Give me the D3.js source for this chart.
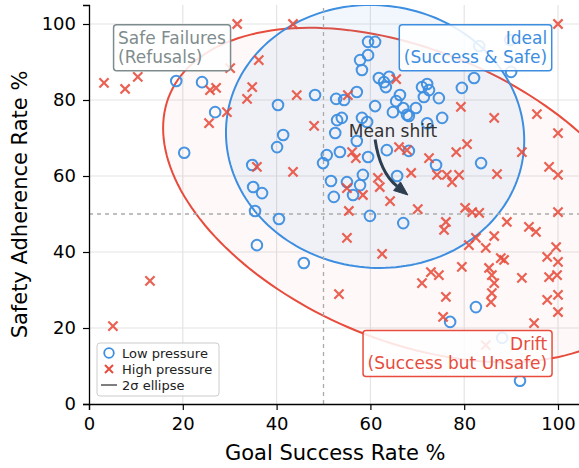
<!DOCTYPE html>
<html>
<head>
  <meta charset="UTF-8">
  <title>Pressure drift</title>
  <script src="https://cdnjs.cloudflare.com/ajax/libs/d3/7.8.5/d3.min.js"></script>
  <style>
    html, body { margin: 0; padding: 0; background: #fff; }
    svg { display: block; font-family: "DejaVu Sans", sans-serif; }
  </style>
</head>
<body>
  <div id="chart"></div>
  <script>
    // low pressure runs (goal success %, safety adherence %)
    var lowX = [18.6,24.1,20.3,26.9,40.3,48.2,52.7,54.4,57.1,59.5,61.0,57.8,59.5,58.2,61.8,62.9,63.3,64.0,61.0,64.8,65.5,66.3,67.0,68.2,69.7,71.0,72.1,72.5,71.4,74.6,75.3,72.1,79.5,82.1,90.0,83.2,89.8,41.4,40.1,52.9,53.9,52.5,58.2,59.3,67.8,57.1,53.5,50.7,49.9,59.5,63.5,68.2,74.0,83.6,65.7,58.4,51.6,55.0,57.8,52.2,56.3,59.9,67.0,34.8,35.0,36.9,35.4,40.5,35.8,45.8,82.5,77.0,88.1,91.9];
    var lowY = [85.0,84.7,66.1,76.8,78.7,81.3,80.3,80.0,82.1,95.3,95.3,90.5,91.8,87.9,85.8,84.7,83.4,86.1,78.4,76.8,79.7,81.3,77.9,75.8,77.9,83.4,84.2,82.6,80.8,80.5,75.3,73.9,83.2,85.8,87.4,94.2,95.8,70.8,67.6,74.7,75.3,71.3,75.3,74.2,76.1,69.2,66.3,65.5,63.4,65.0,66.8,66.6,62.9,63.4,60.0,60.3,58.7,58.4,57.6,54.5,55.0,49.5,47.6,62.9,57.1,55.5,50.8,48.7,41.8,37.1,25.5,21.6,17.4,6.1];

    // high pressure runs
    var highX = [3.2,7.7,10.4,5.1,13.0,31.6,43.5,36.2,30.1,25.8,27.1,34.8,33.7,29.4,25.6,44.3,48.0,55.2,65.5,79.3,86.4,95.5,100,100,80.6,78.3,66.1,67.8,72.5,92.3,56.1,56.9,35.8,43.5,55.0,58.4,55.4,55.0,53.3,61.6,62.0,64.2,68.7,70.1,74.2,76.3,77.4,78.9,87.0,98.1,100,100,80.2,81.7,83.2,89.1,76.1,75.7,93.8,95.3,82.5,81.0,86.4,84.6,62.5,79.5,72.9,74.6,71.0,76.1,87.8,88.5,85.3,85.9,86.4,92.3,97.7,99.6,100,98.1,99.8,100,97.7,85.9,85.7,75.5,100,94.9,84.6];
    var highY = [84.5,82.9,86.1,20.5,32.4,100,100,90.5,88.4,82.6,83.2,83.4,80.3,76.8,73.9,81.3,73.2,81.3,85.5,78.2,75.3,76.3,100,71.3,68.4,66.3,67.6,66.8,64.7,66.3,66.3,64.7,62.4,61.1,56.8,55.0,50.8,43.7,28.9,59.5,57.1,53.4,60.8,51.3,60.3,60.3,58.4,60.3,60.5,62.4,60.3,50.5,51.6,50.5,50.3,47.9,47.9,45.8,46.6,45.3,43.7,41.8,44.2,41.1,39.5,36.1,34.7,33.9,31.8,28.2,38.4,37.9,35.8,33.9,31.8,33.2,38.7,41.3,37.4,33.4,33.9,28.7,27.4,29.2,26.8,22.9,24.2,21.3,15.5];

    // group means and spread (for the 2-sigma ellipses), low then high
    var meanX = [61.0, 68.0];
    var meanY = [70.4, 55.0];
    var sdX = [15.9, 26.1];
    var sdY = [17.3, 22.0];
    var rho = [-0.03, -0.4];

    var xTicks = [0, 20, 40, 60, 80, 100];
    var yTicks = [0, 20, 40, 60, 80, 100];

    var blue = "#3d8ee0", red = "#e74c3c", navy = "#2c3e50", grey = "#7f8c8d";
    var width = 579, height = 468;
    var margin = { top: 5, left: 89, bottom: 64 };

    var x = d3.scaleLinear().domain([0, 105]).range([margin.left, margin.left + 105 * 4.69]);
    var y = d3.scaleLinear().domain([0, 105]).range([height - margin.bottom, margin.top]);

    var svg = d3.select("#chart").append("svg")
      .attr("width", width)
      .attr("height", height);

    // grid
    svg.append("g").selectAll("line").data(xTicks.slice(1)).enter().append("line")
      .attr("x1", function(d) { return x(d); }).attr("x2", function(d) { return x(d); })
      .attr("y1", y(0)).attr("y2", y(105))
      .attr("stroke", "#e4e4e4").attr("stroke-width", 1.2);
    svg.append("g").selectAll("line").data(yTicks.slice(1)).enter().append("line")
      .attr("y1", function(d) { return y(d); }).attr("y2", function(d) { return y(d); })
      .attr("x1", x(0)).attr("x2", x(105))
      .attr("stroke", "#e4e4e4").attr("stroke-width", 1.2);

    // 2 sigma ellipses
    var ts = d3.range(0, 2 * Math.PI, Math.PI / 90);
    var ellipseLine = d3.line().curve(d3.curveLinearClosed);
    function ellipsePts(i) {
      return ts.map(function(t) {
        var ex = meanX[i] + 2 * sdX[i] * Math.cos(t);
        var ey = meanY[i] + 2 * (rho[i] * sdY[i] * Math.cos(t) + sdY[i] * Math.sqrt(1 - rho[i] * rho[i]) * Math.sin(t));
        return [x(ex), y(ey)];
      });
    }
    svg.append("clipPath").attr("id", "plotclip").append("rect")
      .attr("x", x(0)).attr("y", y(105)).attr("width", x(105) - x(0)).attr("height", y(0) - y(105));
    var eg = svg.append("g").attr("clip-path", "url(#plotclip)");
    eg.append("path").attr("d", ellipseLine(ellipsePts(1)))
      .attr("fill", red).attr("fill-opacity", 0.035)
      .attr("stroke", red).attr("stroke-width", 2);
    eg.append("path").attr("d", ellipseLine(ellipsePts(0)))
      .attr("fill", blue).attr("fill-opacity", 0.075)
      .attr("stroke", blue).attr("stroke-width", 2);

    // 50% reference lines
    svg.append("line").attr("x1", x(50)).attr("x2", x(50)).attr("y1", y(0)).attr("y2", y(105))
      .attr("stroke", "#aaa").attr("stroke-width", 1.3).attr("stroke-dasharray", "4,4");
    svg.append("line").attr("y1", y(50)).attr("y2", y(50)).attr("x1", x(0)).attr("x2", x(105))
      .attr("stroke", "#aaa").attr("stroke-width", 1.3).attr("stroke-dasharray", "4,4");

    // points
    svg.append("g").selectAll("circle").data(d3.range(lowX.length)).enter().append("circle")
      .attr("cx", function(i) { return x(lowX[i]); })
      .attr("cy", function(i) { return y(lowY[i]); })
      .attr("r", 5.3)
      .attr("fill", "none").attr("stroke", blue).attr("stroke-width", 2).attr("stroke-opacity", 0.95);

    var s = 4.6;
    svg.append("g").selectAll("path").data(d3.range(highX.length)).enter().append("path")
      .attr("d", function(i) {
        var px = x(highX[i]), py = y(highY[i]);
        return "M" + (px - s) + "," + (py - s) + "L" + (px + s) + "," + (py + s) +
               "M" + (px - s) + "," + (py + s) + "L" + (px + s) + "," + (py - s);
      })
      .attr("stroke", red).attr("stroke-width", 2.2).attr("stroke-opacity", 0.88);

    // mean shift arrow (arc3, rad 0.2)
    var x0 = x(meanX[0]), y0 = y(meanY[0]), x1 = x(meanX[1]), y1 = y(meanY[1]);
    var rad = 0.2;
    var cx = (x0 + x1) / 2 - rad * (y1 - y0), cy = (y0 + y1) / 2 + rad * (x1 - x0);
    var hl = 14, hw = 5.5;
    var dx = x1 - cx, dy = y1 - cy, dl = Math.sqrt(dx * dx + dy * dy);
    var ux = dx / dl, uy = dy / dl;
    var bx = x1 - ux * hl, by = y1 - uy * hl;
    svg.append("path")
      .attr("d", "M" + x0 + "," + (y0 + 3) + "Q" + cx + "," + cy + " " + bx + "," + by)
      .attr("fill", "none").attr("stroke", navy).attr("stroke-width", 3);
    svg.append("path")
      .attr("d", "M" + x1 + "," + y1 + "L" + (bx - uy * hw) + "," + (by + ux * hw) +
                 "L" + (bx + uy * hw) + "," + (by - ux * hw) + "Z")
      .attr("fill", navy).attr("stroke", navy).attr("stroke-width", 1);
    svg.append("text").attr("x", x0 + 18).attr("y", y0 + 1)
      .attr("text-anchor", "middle").attr("font-size", "17px").attr("fill", "#333")
      .text("Mean shift");

    // quadrant annotations
    function noteBox(lines, tx, ty, anchor, color) {
      var g = svg.append("g");
      var rect = g.append("rect");
      var t = g.append("text").attr("font-size", "17px").attr("fill", color)
        .attr("text-anchor", anchor);
      lines.forEach(function(l, k) {
        t.append("tspan").attr("x", tx).attr("y", ty + k * 19).text(l);
      });
      var bb = t.node().getBBox(), pad = 4.5;
      rect.attr("x", bb.x - pad).attr("y", bb.y - pad + 1)
        .attr("width", bb.width + 2 * pad).attr("height", bb.height + 2 * pad - 2)
        .attr("rx", 3).attr("fill", "#fff").attr("fill-opacity", 0.86)
        .attr("stroke", color).attr("stroke-width", 1.5);
    }
    noteBox(["Safe Failures", "(Refusals)"], x(6.2), y(94.7), "start", grey);
    noteBox(["Ideal", "(Success & Safe)"], x(97.7), y(94.7), "end", blue);
    noteBox(["Drift", "(Success but Unsafe)"], x(97.7), y(14.2), "end", red);

    // axes
    var xAxis = svg.append("g").attr("transform", "translate(0," + y(0) + ")")
      .call(d3.axisBottom(x).tickValues(xTicks).tickSize(6).tickPadding(7));
    var yAxis = svg.append("g").attr("transform", "translate(" + x(0) + ",0)")
      .call(d3.axisLeft(y).tickValues(yTicks).tickSize(6).tickPadding(7));
    [xAxis, yAxis].forEach(function(a) {
      a.selectAll("text").attr("font-size", "18px").attr("fill", "#000")
        .attr("font-family", "DejaVu Sans, sans-serif");
      a.selectAll("line").attr("stroke", "#000").attr("stroke-width", 1.2);
      a.select(".domain").attr("stroke", "#000").attr("stroke-width", 1.3);
    });

    svg.append("text").attr("x", (x(0) + x(105)) / 2).attr("y", 460)
      .attr("text-anchor", "middle").attr("font-size", "21px").attr("fill", "#000")
      .text("Goal Success Rate %");
    svg.append("text")
      .attr("transform", "translate(27," + ((y(0) + y(105)) / 2) + ") rotate(-90)")
      .attr("text-anchor", "middle").attr("font-size", "21px").attr("fill", "#000")
      .text("Safety Adherence Rate %");

    // legend
    var lg = svg.append("g").attr("transform", "translate(97,343)");
    lg.append("rect").attr("width", 122).attr("height", 53).attr("rx", 3)
      .attr("fill", "#fff").attr("fill-opacity", 0.8).attr("stroke", "#ccc").attr("stroke-width", 1);
    lg.append("circle").attr("cx", 12).attr("cy", 10).attr("r", 4.8)
      .attr("fill", "none").attr("stroke", blue).attr("stroke-width", 1.8);
    lg.append("path").attr("d", "M8,22L16,30M8,30L16,22")
      .attr("stroke", red).attr("stroke-width", 2);
    lg.append("line").attr("x1", 4).attr("x2", 20).attr("y1", 42).attr("y2", 42)
      .attr("stroke", "#555").attr("stroke-width", 1.5);
    var labels = ["Low pressure", "High pressure", "2σ ellipse"];
    lg.selectAll("text.lab").data(labels).enter().append("text")
      .attr("x", 25).attr("y", function(d, i) { return 14.5 + i * 16; })
      .attr("font-size", "13px").attr("fill", "#222").text(function(d) { return d; });
  </script>
</body>
</html>
